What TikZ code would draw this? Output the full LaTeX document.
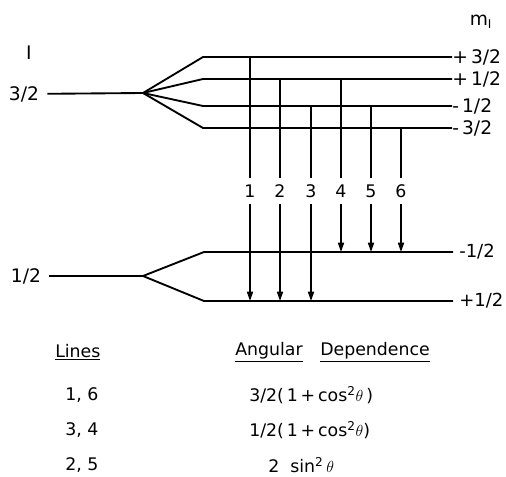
\documentclass[tikz,border=0pt]{standalone}
\usepackage{fontspec}
\setmainfont{DejaVu Sans}
\usetikzlibrary{arrows.meta}

\begin{document}
\begin{tikzpicture}[
    x=0.75pt, y=-0.75pt,
    >={Triangle[length=7pt,width=4.6pt]},
    nivel/.style={line width=1.4pt},
    trans/.style={line width=0.9pt},
    esquerda/.style={inner xsep=6pt, inner ysep=0pt, font=\fontsize{14}{16}\selectfont},
    direita/.style={anchor=west, inner sep=0pt, font=\fontsize{14}{16}\selectfont},
    numero/.style={inner xsep=0pt, minimum height=19pt, font=\fontsize{13}{15}\selectfont},
    tabela/.style={inner sep=0pt, font=\fontsize{13}{15}\selectfont}
]
\useasboundingbox (0,0) rectangle (506,477);
% ---------- I = 3/2 ----------
\node[esquerda] (spin) at (29,53) {I};
\node[direita, anchor=center] (mi) at (481,22) {m\textsubscript{\small I}};
\node[esquerda] (i1) at (24,94) {3/2};
\coordinate (s1) at (143,93);
\draw[nivel] (i1) -- (s1);
\foreach \n/\y/\t in {a/57/{+\,3/2}, b/79/{+\,1/2}, c/106/{-\,1/2}, d/128/{-\,3/2}} {
  \coordinate (\n) at (203,\y);
  \node[direita] (m\n) at (452,\y) {\t};
  \draw[nivel] (s1) -- (\n) -- (m\n);
}
% ---------- I = 1/2 ----------
\node[esquerda] (i2) at (26,276) {1/2};
\coordinate (s2) at (143,276);
\draw[nivel] (i2) -- (s2);
\foreach \n/\y/\t in {e/252/{-1/2}, f/301/{+1/2}} {
  \coordinate (\n) at (204,\y);
  \node[direita, inner xsep=4.5pt, font=\fontsize{13.5}{15}\selectfont] (m\n) at (453,\y) {\t};
  \draw[nivel] (s2) -- (\n) -- (m\n);
}
% ---------- transicoes ----------
\foreach \i/\x/\de/\para in {1/250/a/f, 2/280/b/f, 3/311/c/f, 4/341/b/e, 5/371/c/e, 6/401/d/e} {
  \node[numero] (n\i) at (\x,191) {\i};
  \draw[trans] (n\i |- \de) -- (n\i);
  \draw[trans,->] (n\i) -- (n\i |- \para);
}
% ---------- tabela ----------
\node[tabela, anchor=west] (lin) at (55,352) {\underline{Lines}};
\node[tabela] (ang) at (269,352) {\underline{Angular}};
\node[tabela] (dep) at (375,352) {\underline{Dependence}};
\node[tabela, anchor=west] (r1) at (65,395) {1, 6};
\node[tabela, anchor=west] (r2) at (65,430) {3, 4};
\node[tabela, anchor=west] (r3) at (65,465) {2, 5};
\node[tabela, anchor=west] (f1) at (249,395) {3/2(\,1\,+\,cos\textsuperscript{2}$\theta$\,)};
\node[tabela, anchor=west] (f2) at (249,430) {1/2(\,1\,+\,cos\textsuperscript{2}$\theta$)};
\node[tabela, anchor=west] (f3) at (268,465) {2\ \ sin\textsuperscript{2}\,$\theta$};
\end{tikzpicture}
\end{document}
